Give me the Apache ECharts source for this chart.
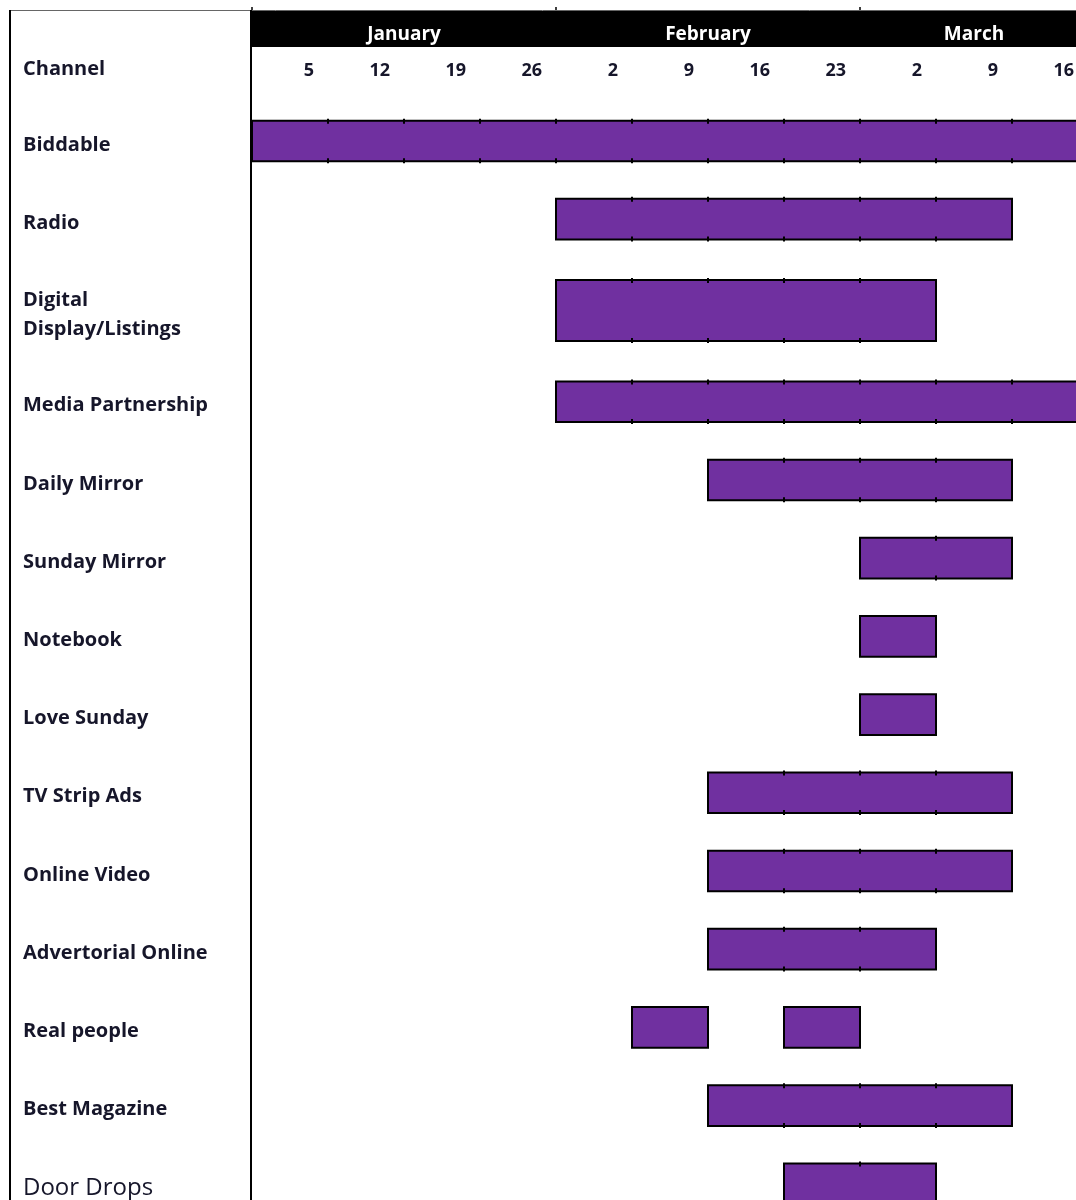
<!DOCTYPE html>
<html><head><meta charset="utf-8">
<script src="https://cdn.jsdelivr.net/npm/echarts@6/dist/echarts.min.js"></script>
<style>html,body{margin:0;padding:0;background:#fff}#c{width:1076px;height:1200px}</style>
</head><body><div id="c"></div>
<script>
const channels = ['Biddable','Radio','Digital\nDisplay/Listings','Media Partnership','Daily Mirror','Sunday Mirror','Notebook','Love Sunday','TV Strip Ads','Online Video','Advertorial Online','Real people','Best Magazine','Door Drops'];
const weekLabels = ['5','12','19','26','2','9','16','23','2','9','16'];
const months = ['January','February','March'];
const monthStartWeek = [0,4,8];
const monthEndWeek = [4,8,11];
// each flight: channel index, start week, end week (week 0 = w/c 5 January)
const flightChannel = [0,1,2,3,4,5,6,7,8,9,10,11,11,12,13];
const flightStart   = [0,4,4,4,6,8,8,8,6,6,6,5,7,6,7];
const flightEnd     = [11,10,9,11,10,10,9,9,10,10,9,6,8,10,9];

const FONT = 'Open Sans';
const TXT = '#16162a';
const PURPLE = '#7030A0';

// row layout: rows with a two-line label are taller
const rowUnits = channels.map(c => c.indexOf('\n') >= 0 ? 1.335 : 1);
const rowCenter = [];
(function(){ let acc = 0; rowUnits.forEach(u => { rowCenter.push(acc + u/2); acc += u; }); })();

const chart = echarts.init(document.getElementById('c'), null, {renderer:'canvas'});

function renderFlight(params, api){
  const row = api.value(0), s = api.value(1), e = api.value(2);
  const yc = rowCenter[row];
  const p0 = api.coord([s, yc]), p1 = api.coord([e, yc]);
  const unit = api.size([0, 1])[1];
  const tall = rowUnits[row] > 1;
  const h = tall ? unit * 0.78 : unit * 0.52;
  const y = p0[1] - h / 2;
  const children = [{
    type:'rect', shape:{x:p0[0], y:y, width:p1[0]-p0[0], height:h},
    style:{fill:PURPLE, stroke:'#000', lineWidth:2}
  }];
  for (let w = s + 1; w < e; w++) {
    const x = api.coord([w, yc])[0];
    children.push({type:'line', shape:{x1:x, y1:y-2, x2:x, y2:y+3}, style:{stroke:'#000', lineWidth:2}});
    children.push({type:'line', shape:{x1:x, y1:y+h-3, x2:x, y2:y+h+2}, style:{stroke:'#000', lineWidth:2}});
  }
  return {type:'group', children};
}

function renderLabel(params, api){
  const row = api.value(0);
  const p = api.coord([0, rowCenter[row]]);
  const name = channels[row];
  const isDD = name === 'Door Drops';
  return {type:'text', x:p[0] - 229, y:p[1] + 4, style:{
    text:name, fill:TXT, align:'left', verticalAlign:'middle', lineHeight:29,
    font:(isDD ? 'normal 24px "' : 'bold 20px "') + FONT + '"'}};
}

function renderMonth(params, api){
  const s = api.value(0), e = api.value(1);
  const p0 = api.coord([s, 0]), p1 = api.coord([e, 0]);
  const band = api.size([0, 1])[1];
  const top = p0[1] - band/2;
  return {type:'group', children:[
    {type:'rect', shape:{x:p0[0], y:top, width:p1[0]-p0[0]+1, height:band}, style:{fill:'#000'}},
    {type:'line', shape:{x1:p0[0], y1:top-4, x2:p0[0], y2:top}, style:{stroke:'#000', lineWidth:1.5}},
    {type:'text', x:(p0[0]+p1[0])/2, y:p0[1]+6, style:{text:months[params.dataIndex], fill:'#fff', font:'bold 19px "'+FONT+'"', align:'center', verticalAlign:'middle'}}
  ]};
}

const option = {
  animation:false,
  backgroundColor:'#fff',
  grid:[
    {left:252, top:101.9, width:836, height:1141.7, containLabel:false, outerBoundsMode:'none'},
    {left:252, top:11, width:836, height:36, containLabel:false, outerBoundsMode:'none'}
  ],
  xAxis:[
    {gridIndex:0, type:'value', position:'top', min:0, max:11, interval:1,
     axisLine:{show:false}, axisTick:{show:false}, splitLine:{show:false},
     axisLabel:{show:true, showMinLabel:true, showMaxLabel:true, margin:31, align:'right', verticalAlign:'middle', padding:[0,14,0,0],
       color:TXT, fontFamily:FONT, fontWeight:'bold', fontSize:18,
       formatter:v => v >= 1 ? weekLabels[v-1] : ''}},
    {gridIndex:1, type:'value', min:0, max:11, show:false}
  ],
  yAxis:[
    {gridIndex:0, type:'value', inverse:true, min:0, max:14.6, show:false},
    {gridIndex:1, type:'category', data:['m'], show:false}
  ],
  graphic:[
    {type:'line', shape:{x1:9, y1:10.5, x2:1076, y2:10.5}, style:{stroke:'#666', lineWidth:1}, z:10},
    {type:'line', shape:{x1:10, y1:10, x2:10, y2:1200}, style:{stroke:'#000', lineWidth:2}, z:10},
    {type:'line', shape:{x1:251, y1:10, x2:251, y2:1200}, style:{stroke:'#000', lineWidth:2}, z:10},
    {type:'text', x:23, y:69, style:{text:'Channel', fill:TXT, font:'bold 20px "'+FONT+'"', verticalAlign:'middle'}}
  ],
  series:[
    {type:'custom', xAxisIndex:0, yAxisIndex:0, renderItem:renderFlight,
     encode:{x:[1,2], y:0}, clip:false,
     data:flightChannel.map((c,i) => [c, flightStart[i], flightEnd[i]])},
    {type:'custom', xAxisIndex:0, yAxisIndex:0, renderItem:renderLabel,
     encode:{y:0}, clip:false,
     data:channels.map((c,i) => [i])},
    {type:'custom', xAxisIndex:1, yAxisIndex:1, renderItem:renderMonth,
     encode:{x:[0,1]}, clip:false,
     data:months.map((m,i) => [monthStartWeek[i], monthEndWeek[i]])}
  ]
};
chart.setOption(option);
</script>
</body></html>
